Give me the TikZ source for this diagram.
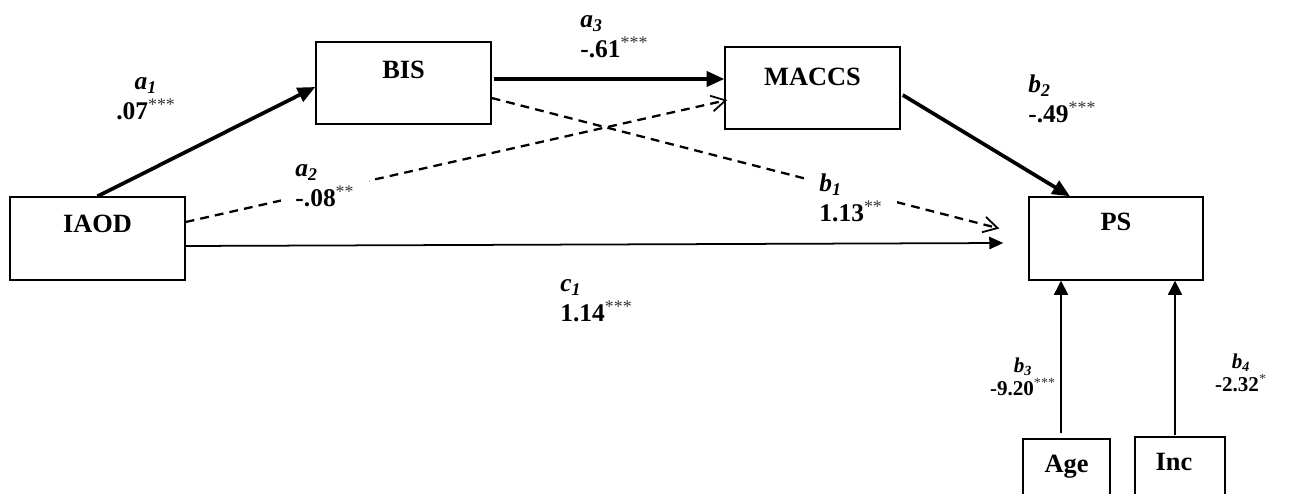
\documentclass[tikz,border=0pt]{standalone}
\usepackage{fontspec}
\setmainfont{Liberation Serif}
\usetikzlibrary{arrows.meta,calc,fit}

\newcommand{\pathlab}[2]{\textit{#1}\textsubscript{\textit{#2}}}
\newcommand{\stars}[1]{\textsuperscript{\mdseries\color{black!80}#1}}

\tikzset{
	box/.style={draw,line width=0.8pt,inner sep=0pt},
	boxname/.style={anchor=north,inner sep=0pt,font=\fontsize{15}{18}\selectfont\bfseries},
	coef/.style={align=left,anchor=west,inner sep=2pt,font=\fontsize{14.5}{17}\selectfont\bfseries},
	coefmid/.style={coef,align=center,anchor=center},
	coefsmall/.style={coefmid,font=\fontsize{12}{13}\selectfont\bfseries},
	gap/.style={fill=white,inner xsep=8pt,inner ysep=1pt},
	thickarrow/.style={line width=2.1pt,-{Triangle[length=10pt,width=8.5pt]}},
	thinarrow/.style={line width=1pt,-{Triangle[length=8pt,width=7pt]}},
	slimarrow/.style={line width=0.8pt,-{Triangle[length=8pt,width=8pt]}},
	dasharrow/.style={line width=1.3pt,dash pattern=on 5pt off 3.5pt,-{Straight Barb[length=8pt,width=9pt,line width=1pt]}}
}

\begin{document}
\begin{tikzpicture}[x=0.02cm,y=-0.02cm]
	\useasboundingbox (0,0) rectangle (1293,493);
	\clip (0,0) rectangle (1293,493);
	% boxes
	\node[box,fit={(10,197) (185,280)},label={[boxname,yshift=-10.2pt]north:IAOD}] (iaod) {};
	\node[box,fit={(316,42) (491,124)},label={[boxname,yshift=-11.3pt]north:BIS}] (bis) {};
	\node[box,fit={(725,47) (900,129)},label={[boxname,yshift=-11.9pt]north:MACCS}] (maccs) {};
	\node[box,fit={(1029,197) (1203,280)},label={[boxname,yshift=-9.6pt]north:PS}] (ps) {};
	\node[box,fit={(1023,439) (1110,510)},label={[boxname,yshift=-9.6pt]north:Age}] (age) {};
	\node[box,fit={(1135,437) (1225,510)},label={[boxname,yshift=-9.6pt,xshift=-3.4pt]north:Inc}] (inc) {};
	\coordinate (a2end) at ($(maccs.west)+(3,12)$);
	\coordinate (b1end) at ($(ps.west)+(-29,-10)$);
	\coordinate (c1end) at ($(ps.west)+(-25,4.5)$);
	\coordinate (agetop) at ($(age.north)+(-5.5,-5)$);
	\coordinate (inctop) at ($(inc.north)+(-5,-1)$);
	% paths
	\draw[thickarrow] (iaod.north) -- ($(bis.west)+(0,4)$);
	\draw[thickarrow] ($(bis.east)+(2,-4)$) -- ($(maccs.west)+(0,-9)$);
	\draw[thickarrow] ($(maccs.east)+(2,7)$) -- ($(ps.north)+(-46,0)$);
	\draw[dasharrow] ($(iaod.east)+(0,-16.5)$) -- (a2end);
	\draw[dasharrow] ($(bis.east)+(0,15)$) -- (b1end);
	\draw[thinarrow] ($(iaod.east)+(0,7.5)$) -- (c1end);
	\draw[slimarrow] (agetop) -- (agetop |- ps.south);
	\draw[slimarrow] (inctop) -- (inctop |- ps.south);
	% coefficients
	\node[coefmid] (la1) at (146,99) {\pathlab{a}{1}\\.07\stars{***}};
	\node[coef,gap] (la2) at (281,186) {\pathlab{a}{2}\\-.08\stars{**}};
	\node[coef] (la3) at (576.5,37) {\pathlab{a}{3}\\-.61\stars{***}};
	\node[coef,gap] (lb1) at (805,198) {\pathlab{b}{1}\\1.13\stars{**}};
	\node[coef] (lb2) at (1024.5,99) {\pathlab{b}{2}\\-.49\stars{***}};
	\node[coef] (lc1) at (556.5,301) {\pathlab{c}{1}\\1.14\stars{***}};
	\node[coefsmall] (lb3) at (1023,377) {\pathlab{b}{3}\\-9.20\stars{***}};
	\node[coefsmall] (lb4) at (1241,373) {\pathlab{b}{4}\\-2.32\stars{*}};
\end{tikzpicture}
\end{document}
